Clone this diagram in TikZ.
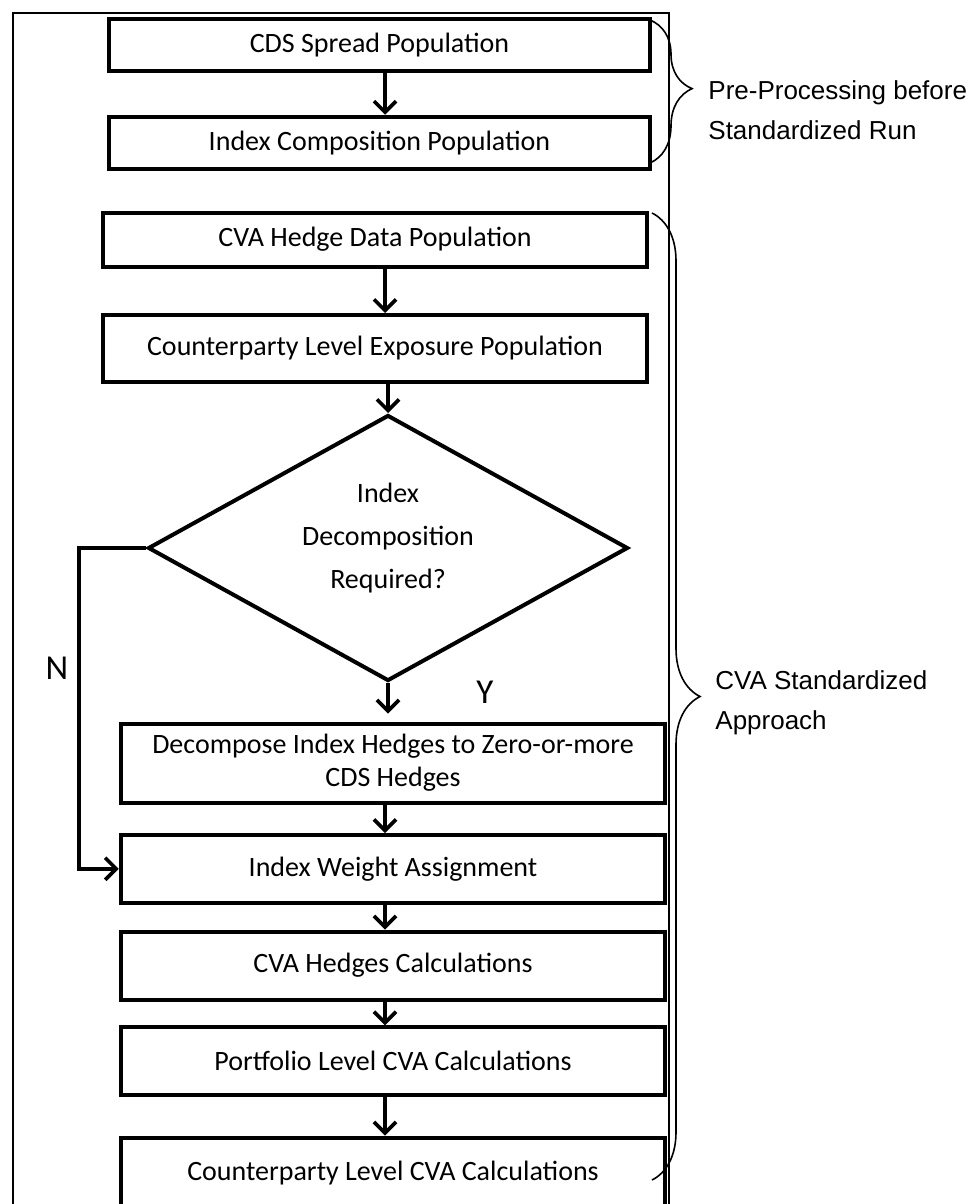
\documentclass[tikz,border=0pt]{standalone}
\usepackage{fontspec}
\setmainfont{Carlito}
\newfontfamily\sidefont{Liberation Sans}
\usetikzlibrary{shapes.geometric,arrows.meta,decorations.pathreplacing}

\begin{document}
\begin{tikzpicture}[x=0.5pt,y=-0.5pt,
  stepbox/.style={draw, line width=2pt, rectangle, inner sep=0pt, align=center,
    font=\fontsize{14}{16.5}\selectfont},
  flow/.style={line width=1.8pt, -{Straight Barb[length=5.5pt,width=11pt]}},
  side/.style={inner sep=0pt, align=left, anchor=west,
    font=\sidefont\fontsize{13}{20}\selectfont},
  yn/.style={inner sep=0pt, font=\fontsize{17.5}{20}\selectfont}]
\useasboundingbox (0,0) rectangle (976,1204);
% frame round the whole flow (open at the bottom)
\draw[line width=1.2pt] (13,1215) -- (13,13) -- (669,13) -- (669,1215);

% pre-processing
\node (s1)[stepbox, minimum width=270.5pt, minimum height=26pt] at (379.5,45) {CDS Spread Population};
\node (s2)[stepbox, minimum width=270.5pt, minimum height=26.25pt] at (379.5,143) {Index Composition Population};

% standardized run
\node (s3)[stepbox, minimum width=271.75pt, minimum height=27pt] at (375,239.5) {CVA Hedge Data Population};
\node (s4)[stepbox, minimum width=271.75pt, minimum height=33.5pt] at (375,348.5) {Counterparty Level Exposure Population};
\node (d)[draw, diamond, aspect=1.8, line width=2pt, minimum width=240pt, minimum height=133pt,
  inner sep=0pt] at (388,548) {};
\node (dq)[align=center, inner sep=0pt, font=\fontsize{14}{21.5}\selectfont] at (388,538)
  {Index\\Decomposition\\Required?};
\node (s5)[stepbox, minimum width=272.25pt, minimum height=39.5pt] at (393,763) {Decompose Index Hedges to Zero-or-more\\CDS Hedges};
\node (s6)[stepbox, minimum width=272.25pt, minimum height=33.75pt] at (393,868.75) {Index Weight Assignment};
\node (s7)[stepbox, minimum width=272.25pt, minimum height=34pt] at (393,965.5) {CVA Hedges Calculations};
\node (s8)[stepbox, minimum width=272.25pt, minimum height=33.75pt] at (393,1061) {Portfolio Level CVA Calculations};
\node (s9)[stepbox, minimum width=272.25pt, minimum height=35.5pt] at (393,1173) {Counterparty Level CVA Calculations};

\coordinate (axis) at (385,0);
\coordinate (nx) at (79,0);

\draw[flow] (s1.south -| axis) -- (s2.north -| axis);
\draw[flow] (s3.south -| axis) -- (s4.north -| axis);
\draw[flow] (s4.south -| d.north) -- (d.north);
\draw[flow, shorten >=4pt] (d.south) -- (s5.north -| d.south);
\draw[flow] (s5.south -| axis) -- (s6.north -| axis);
\draw[flow] (s6.south -| axis) -- (s7.north -| axis);
\draw[flow] (s7.south -| axis) -- (s8.north -| axis);
\draw[flow] (s8.south -| axis) -- (s9.north -| axis);
% no decomposition
\draw[flow] (d.west) -- (d.west -| nx) |- (s6.west);

\node (no)[yn] at (57,668) {N};
\node (yes)[yn] at (485,692) {Y};

% braces
\draw[line width=0.8pt, decorate, decoration={brace, amplitude=21pt, aspect=0.48}] (650,20) -- (650,163);
\draw[line width=0.8pt, decorate, decoration={brace, amplitude=24pt, aspect=0.5}] (652,213) -- (652,1180);

\node (pre)[side] at (708,110) {Pre-Processing before\\Standardized Run};
\node (std)[side] at (715,703) {CVA Standardized\\Approach};
\end{tikzpicture}
\end{document}
